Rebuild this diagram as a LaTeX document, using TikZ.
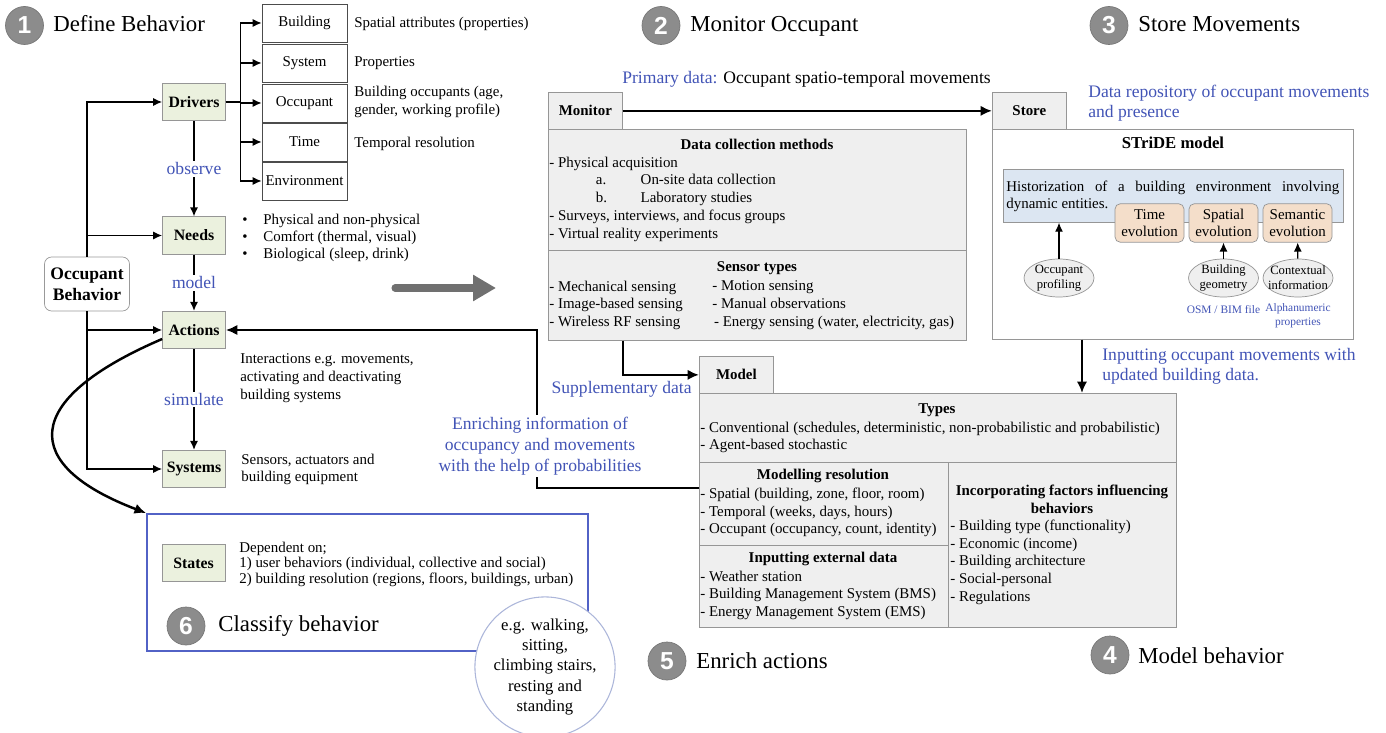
\documentclass[tikz,border=0pt]{standalone}
\usepackage{fontspec}
\setmainfont{Liberation Serif}
\setsansfont{Liberation Sans}
\usetikzlibrary{arrows.meta,shapes.geometric}

\definecolor{stepgray}{RGB}{140,140,140}
\definecolor{flowgray}{RGB}{112,112,112}
\definecolor{drivegreen}{RGB}{235,241,222}
\definecolor{panelgray}{RGB}{239,239,239}
\definecolor{linegray}{RGB}{150,150,150}
\definecolor{noteblue}{RGB}{66,84,182}
\definecolor{frameblue}{RGB}{82,98,198}
\definecolor{circblue}{RGB}{172,182,218}
\definecolor{stridblue}{RGB}{220,230,242}
\definecolor{evolorange}{RGB}{244,222,202}

\tikzset{
  stepnum/.style={circle,fill=stepgray,draw=stepgray!85!black,text=white,minimum size=0.76cm,inner sep=0pt,font=\sffamily\bfseries\fontsize{14}{14}\selectfont},
  steptitle/.style={anchor=base west,inner sep=0pt,font=\fontsize{13}{15}\selectfont},
  factor/.style={draw=linegray,fill=drivegreen,minimum width=1.26cm,minimum height=0.75cm,inner sep=0pt,font=\bfseries\fontsize{9}{10}\selectfont},
  driver/.style={draw=black!70,fill=white,minimum width=1.7cm,minimum height=0.76cm,inner sep=0pt,font=\fontsize{8.5}{10}\selectfont},
  occbox/.style={draw=black!40,fill=white,rounded corners=4pt,minimum width=1.7cm,minimum height=1.08cm,align=center,font=\bfseries\fontsize{10}{12}\selectfont},
  txt/.style={anchor=west,align=left,inner sep=0pt,font=\fontsize{8.5}{10.1}\selectfont},
  head/.style={inner sep=0pt,font=\bfseries\fontsize{8.5}{10.1}\selectfont},
  bluetxt/.style={text=noteblue,inner sep=0pt,font=\fontsize{10}{11.4}\selectfont},
  smallblue/.style={text=noteblue,inner sep=0pt,align=center,font=\fontsize{6.5}{8}\selectfont},
  tab/.style={draw=linegray,fill=panelgray,anchor=north west,minimum width=1.48cm,minimum height=0.74cm,inner sep=0pt,font=\bfseries\fontsize{8.5}{10}\selectfont},
  panel/.style={draw=linegray,fill=panelgray,anchor=north west,inner sep=0pt},
  evol/.style={draw=linegray,fill=evolorange,rounded corners=3pt,minimum width=1.38cm,minimum height=0.77cm,align=center,inner sep=0pt,font=\fontsize{8.5}{9.6}\selectfont},
  source/.style={ellipse,draw=linegray,fill=panelgray,minimum width=1.4cm,minimum height=0.76cm,inner xsep=-3pt,inner ysep=-3pt,align=center,font=\fontsize{7.2}{8.6}\selectfont},
  classframe/.style={draw=frameblue,line width=1.1pt,anchor=north west,minimum width=8.82cm,minimum height=2.74cm,inner sep=0pt},
  examples/.style={circle,draw=circblue,fill=white,line width=0.6pt,minimum size=2.44cm,inner sep=0pt,align=center,font=\fontsize{9.5}{11.4}\selectfont},
  arr/.style={-{Latex[length=1.8mm,width=1.6mm]},line width=0.7pt},
  bigarr/.style={-{Latex[length=2.3mm,width=2.1mm]},line width=1.4pt},
  flow/.style={draw=flowgray,line width=4pt,line cap=round,-{Triangle[length=0.46cm,width=0.5cm]}},
}

\begin{document}
\begin{tikzpicture}[x=0.02cm,y=-0.02cm]
\useasboundingbox (0,0) rectangle (1386,733);

% step titles
\node[stepnum] (s1) at (24.5,25.5) {1};
\node[steptitle] (t1) at (53,32) {Define Behavior};
\node[stepnum] (s2) at (661,25.5) {2};
\node[steptitle] (t2) at (690,32) {Monitor Occupant};
\node[stepnum] (s3) at (1109,25.5) {3};
\node[steptitle] (t3) at (1138,32) {Store Movements};
\node[stepnum] (s4) at (1110,655) {4};
\node[steptitle] (t4) at (1138,663) {Model behavior};
\node[stepnum] (s5) at (667,661) {5};
\node[steptitle] (t5) at (696,668) {Enrich actions};

% classify frame (drawn first)
\node[classframe] (classbox) at (146,513) {};
\node[stepnum] (s6) at (186,626) {6};
\node[steptitle] (t6) at (218,631) {Classify behavior};

% occupant behavior factors
\node[factor] (drivers) at (194,102) {Drivers};
\node[factor] (needs) at (194,235.5) {Needs};
\node[factor] (actions) at (194,330) {Actions};
\node[factor] (systems) at (194,469) {Systems};
\node[factor] (states) at (193.5,563) {States};
\node[occbox] (behavior) at (87,284) {Occupant\\Behavior};

\draw[arr] (behavior.north) |- (drivers.west);
\draw[arr] (behavior.north) |- (needs.west);
\draw[arr] (behavior.south) |- (actions.west);
\draw[arr] (behavior.south) |- (systems.west);

\draw[arr] (drivers) -- (needs) node[midway,bluetxt,fill=white,inner sep=1pt] {observe};
\draw[arr] (needs) -- (actions) node[midway,bluetxt,fill=white,inner sep=1pt] {model};
\draw[arr] (actions) -- (systems) node[midway,bluetxt,fill=white,inner sep=1pt] {simulate};

% drivers
\foreach \name/\label/\y in {building/Building/23,system/System/63,occupant/Occupant/103,time/Time/142,environment/Environment/181}
  \node[driver] (\name) at (304.5,\y) {\label};
\foreach \name in {building,system,occupant,time,environment}
  \draw[arr] (drivers.east) -- ++(15,0) |- (\name.west);

\node[txt] (buildingnote) at (354,24) {Spatial attributes (properties)};
\node[txt] (systemnote) at (354,63) {Properties};
\node[txt] (occupantnote) at (354,102) {Building occupants (age,\\gender, working profile)};
\node[txt] (timenote) at (354,144) {Temporal resolution};

% notes
\node[txt,anchor=north west,font=\fontsize{8.5}{9.7}\selectfont] (needsnote) at (242,213.5) {\textbullet\hspace{9pt}Physical and non-physical\\\textbullet\hspace{9pt}Comfort (thermal, visual)\\\textbullet\hspace{9pt}Biological (sleep, drink)};
\node[txt,anchor=north west] (actionsnote) at (240,353.5) {Interactions e.g. movements,\\activating and deactivating\\building systems};
\node[txt,anchor=north west] (systemsnote) at (241,453.5) {Sensors, actuators and\\building equipment};
\node[txt,anchor=north west,font=\fontsize{8.5}{8.8}\selectfont] (statesnote) at (239,541.5) {Dependent on;\\1) user behaviors (individual, collective and social)\\2) building resolution (regions, floors, buildings, urban)};

\draw[bigarr] ([yshift=-0.18cm]actions.west) .. controls (20,400) and (20,465) .. (classbox.north west);
\node[examples] (examples) at (545,667) {e.g. walking,\\sitting,\\climbing stairs,\\resting and\\standing};

\coordinate (flowstart) at (395,288);
\coordinate (flowend) at (496,288);
\draw[flow] (flowstart) -- (flowend);

% monitor
\node[bluetxt,anchor=base west] (primary) at (622,84) {Primary data: \textcolor{black}{Occupant spatio-temporal movements}};
\node[tab] (montab) at (548,92) {Monitor};
\node[panel,minimum width=8.36cm,minimum height=4.22cm] (monbox) at (548,129) {};
\draw[linegray] (monbox.west |- 0,250) -- (monbox.east |- 0,250);
\node[head] (collecthead) at (757,144.5) {Data collection methods};
\node[txt,anchor=north west] (collectlist) at (549,156.5) {- Physical acquisition\\\hspace*{26.5pt}\makebox[25.5pt][l]{a.}On-site data collection\\\hspace*{26.5pt}\makebox[25.5pt][l]{b.}Laboratory studies\\- Surveys, interviews, and focus groups\\- Virtual reality experiments};
\node[head] (sensorhead) at (757,268) {Sensor types};
\node[txt,anchor=north west] (sensorleft) at (549,280.5) {- Mechanical sensing\\- Image-based sensing\\- Wireless RF sensing};
\node[txt,anchor=north west] (sensorright) at (712,280.5) {- Motion sensing\\- Manual observations\\\hspace*{1pt}- Energy sensing (water, electricity, gas)};

% store
\node[tab] (storetab) at (992,92) {Store};
\node[panel,fill=white,minimum width=7.22cm,minimum height=4.2cm] (storebox) at (992,129) {};
\node[bluetxt,anchor=north west,align=left] (storenote) at (1088,84.5) {Data repository of occupant movements\\and presence};
\node[head,font=\bfseries\fontsize{9.5}{11}\selectfont] (stridehead) at (1173,143) {STriDE model};
\node[draw=linegray,fill=stridblue,anchor=north west,minimum width=6.8cm,minimum height=1.06cm,inner sep=0pt] (history) at (1003,169) {};
\node[anchor=north west,inner sep=0pt,align=left,font=\fontsize{8.5}{9.8}\selectfont] (historytext) at (1006,180.5) {\makebox[6.66cm][s]{Historization of a building environment involving}\\dynamic entities.};
\node[evol] (timeevol) at (1149.5,223) {Time\\evolution};
\node[evol] (spatialevol) at (1223.5,223) {Spatial\\evolution};
\node[evol] (semanticevol) at (1297.5,223) {Semantic\\evolution};
\node[source] (profiling) at (1059,278) {Occupant\\profiling};
\node[source] (geometry) at (1223.5,278) {Building\\geometry};
\node[source] (context) at (1298,278) {Contextual\\information};
\draw[arr] (profiling) -- (profiling |- history.south);
\draw[arr] (geometry) -- (spatialevol);
\draw[arr] (context) -- (semanticevol);
\node[smallblue] (geometrynote) at (1223.5,310) {OSM / BIM file};
\node[smallblue] (contextnote) at (1298,316) {Alphanumeric\\properties};

% model
\node[tab] (modeltab) at (699,356) {Model};
\node[panel,minimum width=9.54cm,minimum height=4.68cm] (modelbox) at (699,393) {};
\draw[linegray] (modelbox.west |- 0,462) -- (modelbox.east |- 0,462);
\draw[linegray] (948,462) -- (948,627);
\draw[linegray] (699,545) -- (948,545);
\node[head] (typeshead) at (937,410) {Types};
\node[txt,anchor=north west] (typeslist) at (700,421.5) {- Conventional (schedules, deterministic, non-probabilistic and probabilistic)\\- Agent-based stochastic};
\node[head] (reshead) at (823,476) {Modelling resolution};
\node[txt,anchor=north west] (reslist) at (700,487.5) {- Spatial (building, zone, floor, room)\\- Temporal (weeks, days, hours)\\- Occupant (occupancy, count, identity)};
\node[head] (exthead) at (823,558.5) {Inputting external data};
\node[txt,anchor=north west] (extlist) at (700,570.5) {- Weather station\\- Building Management System (BMS)\\- Energy Management System (EMS)};
\node[head,align=center] (factorhead) at (1062,499) {Incorporating factors influencing\\behaviors};
\node[txt,anchor=north west] (factorlist) at (950,519.5) {- Building type (functionality)\\- Economic (income)\\- Building architecture\\- Social-personal\\- Regulations};

% flows between stages
\draw[bigarr] (montab.east) -- (storetab.west);
\coordinate (storeout) at ([xshift=1.8cm]storebox.south west);
\draw[bigarr] (storeout) -- (storeout |- modelbox.north);
\node[bluetxt,anchor=north west,align=left] (inputnote) at (1102,347.5) {Inputting occupant movements with\\updated building data.};
\coordinate (monout) at ([xshift=1.5cm]monbox.south west);
\draw[bigarr] (monout) |- (modeltab.west);
\node[bluetxt,anchor=east] (supplnote) at (692,389) {Supplementary data};
\coordinate (enrichbend) at (537,488);
\draw[bigarr] (enrichbend -| modelbox.west) -- (enrichbend) |- (actions.east);
\node[bluetxt,fill=white,align=center,inner sep=1pt,font=\fontsize{10}{11.8}\selectfont] (enrichnote) at (540,446) {Enriching information of\\occupancy and movements\\with the help of probabilities};
\end{tikzpicture}
\end{document}
